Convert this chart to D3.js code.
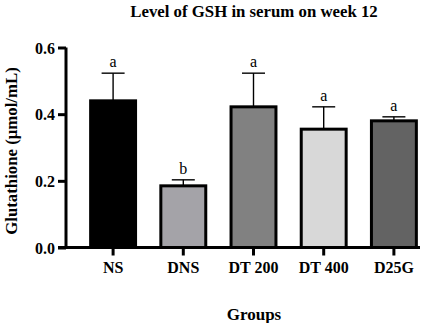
<!DOCTYPE html>
<html><head><meta charset="utf-8">
<script src="https://cdn.jsdelivr.net/npm/d3@7"></script>
<style>body{margin:0;background:#fff}svg{display:block}</style>
</head><body><svg id="c" width="443" height="323"></svg>
<script>
const categories = ["NS","DNS","DT 200","DT 400","D25G"];
const values = [0.44, 0.185, 0.422, 0.355, 0.38];
const errors = [0.083, 0.018, 0.101, 0.067, 0.012];
const letters = ["a","b","a","a","a"];
const colors = ["#000000","#a4a3a8","#818181","#d8d8d8","#636363"];
const yTicks = [0.0, 0.2, 0.4, 0.6];

const svg = d3.select("#c");
const font = "'Liberation Serif','Times New Roman',serif";
const x = d3.scaleBand().domain(categories).range([78, 429]).paddingInner(0.36).paddingOuter(0.18);
const y = d3.scaleLinear().domain([0, 0.6]).range([247.5, 47.5]);

svg.append("text").attr("x", 254).attr("y", 17).attr("text-anchor","middle")
  .style("font-family", font).style("font-weight","bold").style("font-size","16.8px")
  .text("Level of GSH in serum on week 12");

const g = svg.append("g");
g.selectAll("line.err").data(categories).join("line")
  .attr("x1", d => x(d) + x.bandwidth()/2).attr("x2", d => x(d) + x.bandwidth()/2)
  .attr("y1", (d,i) => y(values[i])).attr("y2", (d,i) => y(values[i] + errors[i]))
  .attr("stroke","#000").attr("stroke-width",1.4);
g.selectAll("line.cap").data(categories).join("line")
  .attr("x1", d => x(d) + x.bandwidth()/2 - 11.5).attr("x2", d => x(d) + x.bandwidth()/2 + 11.5)
  .attr("y1", (d,i) => y(values[i] + errors[i])).attr("y2", (d,i) => y(values[i] + errors[i]))
  .attr("stroke","#000").attr("stroke-width",1.4);
g.selectAll("rect").data(categories).join("rect")
  .attr("x", d => x(d)).attr("width", x.bandwidth())
  .attr("y", (d,i) => y(values[i])).attr("height", (d,i) => y(0) - y(values[i]))
  .attr("fill", (d,i) => colors[i]).attr("stroke","#000").attr("stroke-width",3);
g.selectAll("text.let").data(categories).join("text")
  .attr("x", d => x(d) + x.bandwidth()/2).attr("y", (d,i) => y(values[i] + errors[i]) - 6)
  .attr("text-anchor","middle").style("font-family", font).style("font-size","16px")
  .text((d,i) => letters[i]);

const ya = svg.append("g").attr("transform","translate(66,0)")
  .call(d3.axisLeft(y).tickValues(yTicks).tickFormat(d3.format(".1f")).tickSize(8).tickSizeOuter(0));
const xa = svg.append("g").attr("transform",`translate(0,${y(0)})`)
  .call(d3.axisBottom(x).tickSize(8).tickSizeOuter(0));
[ya, xa].forEach(a => {
  a.select(".domain").attr("stroke","#000").attr("stroke-width",3);
  a.selectAll(".tick line").attr("stroke","#000").attr("stroke-width",3);
  a.selectAll("text").style("font-family", font).style("font-weight","bold")
    .style("font-size","16px").attr("fill","#000");
});
ya.select(".domain").attr("d", `M0,${y(0.6)}V${y(0)}`);
xa.select(".domain").attr("d", `M58,0H420`);
ya.selectAll(".tick text").attr("x", -11).attr("dy","0.35em");
xa.selectAll(".tick text").attr("y", 14);

svg.append("text").attr("transform","translate(17,151) rotate(-90)").attr("text-anchor","middle")
  .style("font-family", font).style("font-weight","bold").style("font-size","16.8px")
  .text("Glutathione (μmol/mL)");
svg.append("text").attr("x", 254).attr("y", 320).attr("text-anchor","middle")
  .style("font-family", font).style("font-weight","bold").style("font-size","17px")
  .text("Groups");
</script></body></html>
